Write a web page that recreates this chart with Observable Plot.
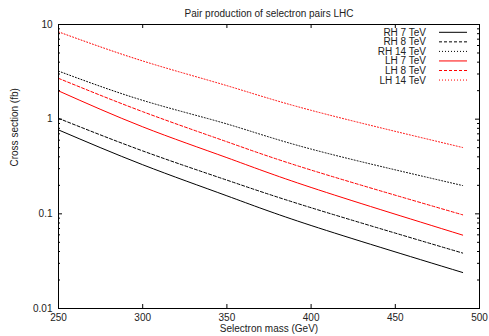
<!DOCTYPE html>
<html>
<head>
<meta charset="utf-8">
<script src="https://cdn.jsdelivr.net/npm/d3@7"></script>
<script src="https://cdn.jsdelivr.net/npm/@observablehq/plot@0.6"></script>
<style>
  html, body { margin: 0; padding: 0; background: #fff; }
</style>
</head>
<body>
<div id="chart"></div>
<script>
// Data
const masses = [250, 300, 350, 400, 490];
const rh7  = [0.77, 0.33, 0.155, 0.0753, 0.024];
const rh8  = [1.02, 0.462, 0.227, 0.116, 0.0385];
const rh14 = [3.22, 1.58, 0.89, 0.483, 0.199];
const lh7  = [1.99, 0.83, 0.392, 0.19, 0.0596];
const lh8  = [2.70, 1.20, 0.577, 0.29, 0.0976];
const lh14 = [8.36, 4.12, 2.26, 1.24, 0.502];

const seriesNames = ["RH 7 TeV", "RH 8 TeV", "RH 14 TeV", "LH 7 TeV", "LH 8 TeV", "LH 14 TeV"];
const seriesValues = [rh7, rh8, rh14, lh7, lh8, lh14];
const seriesColors = ["#000000", "#000000", "#000000", "#ff0000", "#ff0000", "#ff0000"];
const seriesDash = [null, "3,2", "1,2", null, "3,2", "1,2"];

const xTicks = [250, 300, 350, 400, 450, 500];
const yMajor = [0.01, 0.1, 1, 10];
const yMinor = [];
[0.01, 0.1, 1].forEach(d => { for (let k = 2; k <= 9; k++) yMinor.push(+(d * k).toPrecision(3)); });

const titleText = "Pair production of selectron pairs LHC";
const xLabel = "Selectron mass (GeV)";
const yLabel = "Cross section (fb)";

const W = 489, H = 336, mL = 58, mR = 10, mT = 24, mB = 28;
const plotH = H - mT - mB, plotW = W - mL - mR;

const rows = [];
seriesNames.forEach((name, i) => {
  masses.forEach((m, j) => rows.push({name, mass: m, value: seriesValues[i][j]}));
});

const lineMarks = seriesNames.map((name, i) =>
  Plot.line(rows.filter(r => r.name === name), {
    x: "mass", y: "value", stroke: seriesColors[i], strokeWidth: 1,
    strokeDasharray: seriesDash[i], curve: "natural"
  })
);

const chart = Plot.plot({
  width: W, height: H,
  marginLeft: mL, marginRight: mR, marginTop: mT, marginBottom: mB,
  style: {fontFamily: "'Liberation Sans', Arial, sans-serif", fontSize: "10px", color: "#222", background: "#fff"},
  x: {domain: [250, 500], ticks: xTicks, label: null},
  y: {type: "log", domain: [0.01, 10], ticks: yMajor, label: null},
  marks: [
    ...lineMarks,
    // inward ticks
    Plot.tickX(xTicks, {x: d => d, insetTop: plotH - 4, stroke: "#000"}),
    Plot.tickX(xTicks, {x: d => d, insetBottom: plotH - 4, stroke: "#000"}),
    Plot.tickY(yMajor, {y: d => d, insetRight: plotW - 4, stroke: "#000"}),
    Plot.tickY(yMajor, {y: d => d, insetLeft: plotW - 4, stroke: "#000"}),
    Plot.tickY(yMinor, {y: d => d, insetRight: plotW - 2, stroke: "#000"}),
    Plot.tickY(yMinor, {y: d => d, insetLeft: plotW - 2, stroke: "#000"}),
    Plot.frame({stroke: "#000", strokeWidth: 1}),
    Plot.axisX(xTicks, {tickSize: 0, tickPadding: 5, fontSize: 10, label: null}),
    Plot.axisY(yMajor, {tickSize: 0, tickPadding: 6, fontSize: 10, tickFormat: d => String(d), label: null}),
    Plot.text([titleText], {frameAnchor: "top", dy: -15, fontSize: 10, fill: "#222"}),
    Plot.text([xLabel], {frameAnchor: "bottom", dy: 23.5, fontSize: 10, fill: "#222"}),
    Plot.text([yLabel], {frameAnchor: "left", dx: -44, rotate: -90, fontSize: 10, fill: "#222"})
  ]
});

document.getElementById("chart").appendChild(chart);

// Legend (gnuplot style, inside top-right)
const svg = d3.select(chart);
const leg = svg.append("g").attr("font-family", "'Liberation Sans', Arial, sans-serif").attr("font-size", 10);
seriesNames.forEach((name, i) => {
  const y = 32.3 + i * 9.55;
  leg.append("text").attr("x", 426).attr("y", y).attr("dy", "0.35em")
    .attr("text-anchor", "end").attr("fill", "#222").text(name);
  leg.append("line").attr("x1", 439).attr("x2", 467).attr("y1", y).attr("y2", y)
    .attr("stroke", seriesColors[i]).attr("stroke-width", 1)
    .attr("stroke-dasharray", seriesDash[i]);
});
</script>
</body>
</html>
